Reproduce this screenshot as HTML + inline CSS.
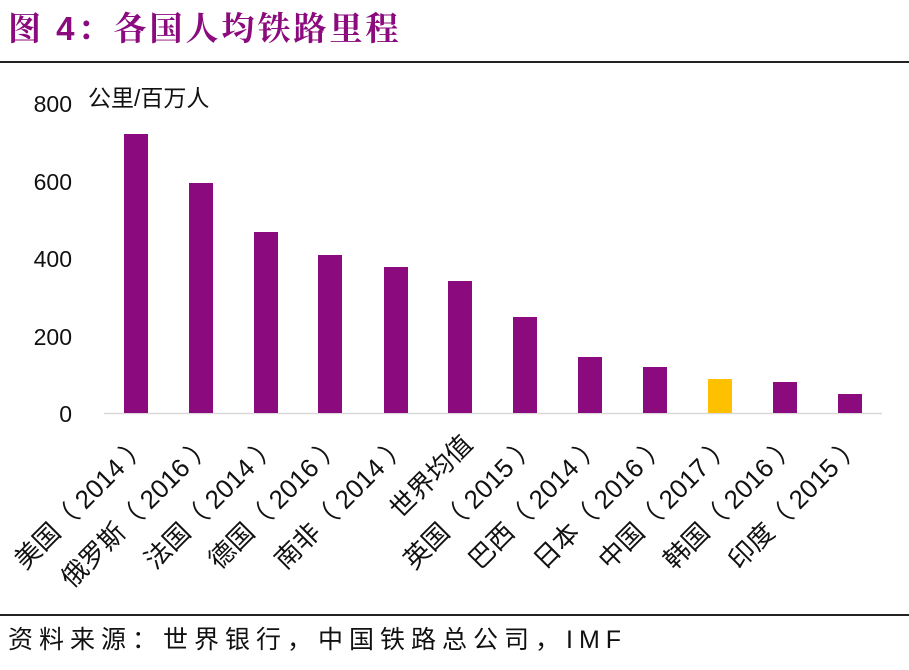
<!DOCTYPE html>
<html><head><meta charset="utf-8"><style>
body{margin:0;background:#fff;width:909px;height:670px;overflow:hidden;position:relative;font-family:"Liberation Sans","Noto Sans CJK SC",sans-serif}
.t{position:absolute;left:8px;top:3px;font-size:33px;font-weight:bold;color:#8B0A7E;font-family:"Liberation Sans","Noto Serif CJK SC",serif;letter-spacing:3px}
.hl{position:absolute;left:0;width:909px;height:2px;background:#222}
.src{position:absolute;left:8px;top:620px;font-size:25px;color:#111;letter-spacing:6px}
</style></head><body>
<div class="t">图 4：各国人均铁路里程</div>
<div class="hl" style="top:61px"></div>
<div class="hl" style="top:614px"></div>
<div class="src">资料来源：世界银行，中国铁路总公司，IMF</div>
<svg width="909" height="670" style="position:absolute;left:0;top:0" font-family="Liberation Sans, Noto Sans CJK SC, sans-serif">
<g font-size="23" fill="#111" text-anchor="end">
<text x="72" y="112">800</text><text x="72" y="190">600</text><text x="72" y="267">400</text><text x="72" y="345">200</text><text x="72" y="422">0</text>
</g>
<text x="88" y="106" font-size="23" fill="#111">公里/百万人</text>
<line x1="104" y1="413.5" x2="882" y2="413.5" stroke="#d9d9d9" stroke-width="1.5"/>
<g fill="#8B0A7E">
<rect x="124" y="134" width="24" height="279"/>
<rect x="189" y="183" width="24" height="230"/>
<rect x="254" y="232" width="24" height="181"/>
<rect x="318" y="255" width="24" height="158"/>
<rect x="384" y="267" width="24" height="146"/>
<rect x="448" y="281" width="24" height="132"/>
<rect x="513" y="317" width="24" height="96"/>
<rect x="578" y="357" width="24" height="56"/>
<rect x="643" y="367" width="24" height="46"/>
<rect x="773" y="382" width="24" height="31"/>
<rect x="838" y="394" width="24" height="19"/>
</g>
<rect x="708" y="379" width="24" height="34" fill="#FFC000"/>
<g font-size="26" fill="#111" text-anchor="end">
<text transform="translate(150,446) rotate(-45)">美国（ 2014 ）</text>
<text transform="translate(215,446) rotate(-45)">俄罗斯（ 2016 ）</text>
<text transform="translate(280,446) rotate(-45)">法国（ 2014 ）</text>
<text transform="translate(344,446) rotate(-45)">德国（ 2016 ）</text>
<text transform="translate(410,446) rotate(-45)">南非（ 2014 ）</text>
<text transform="translate(474,446) rotate(-45)">世界均值</text>
<text transform="translate(539,446) rotate(-45)">英国（ 2015 ）</text>
<text transform="translate(604,446) rotate(-45)">巴西（ 2014 ）</text>
<text transform="translate(669,446) rotate(-45)">日本（ 2016 ）</text>
<text transform="translate(734,446) rotate(-45)">中国（ 2017 ）</text>
<text transform="translate(799,446) rotate(-45)">韩国（ 2016 ）</text>
<text transform="translate(864,446) rotate(-45)">印度（ 2015 ）</text>
</g>
</svg>
</body></html>
